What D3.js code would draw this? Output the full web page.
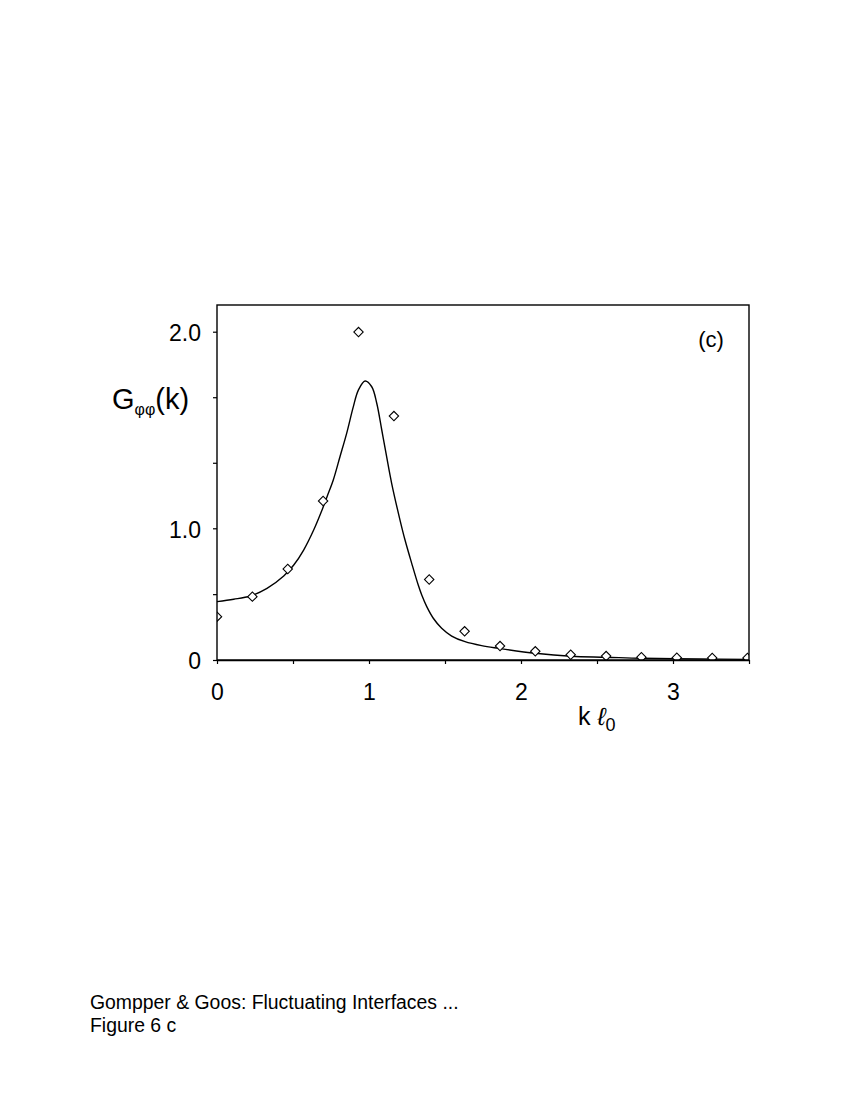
<!DOCTYPE html>
<html>
<head>
<meta charset="utf-8">
<script src="https://cdn.jsdelivr.net/npm/d3@7"></script>
<style>
  html, body { margin: 0; padding: 0; background: #fff; }
  svg { display: block; font-family: "Liberation Sans", Arial, Helvetica, sans-serif; }
</style>
</head>
<body>
<svg id="chart" width="853" height="1103"></svg>
<script>
// ---- data ----
const pointK = [0, 0.2327, 0.4654, 0.698, 0.931, 1.164, 1.396, 1.629, 1.862, 2.094, 2.327, 2.56, 2.792, 3.025, 3.258, 3.49];
const pointG = [0.329, 0.481, 0.691, 1.139, 1.998, 1.571, 0.611, 0.218, 0.106, 0.066, 0.040, 0.030, 0.021, 0.017, 0.015, 0.015];

const curveK = [0, 0.110, 0.219, 0.329, 0.439, 0.505, 0.570, 0.636, 0.691, 0.724, 0.765, 0.809, 0.853, 0.897, 0.930, 0.974, 1.018, 1.051, 1.084, 1.116, 1.149, 1.204, 1.237, 1.281, 1.324, 1.347, 1.380, 1.423, 1.478, 1.544, 1.632, 1.741, 1.851, 2.094, 2.329, 2.559, 2.794, 3.178, 3.5];
const curveG = [0.443, 0.461, 0.486, 0.544, 0.638, 0.721, 0.835, 0.987, 1.093, 1.161, 1.246, 1.364, 1.483, 1.619, 1.703, 1.749, 1.720, 1.636, 1.500, 1.364, 1.229, 1.042, 0.911, 0.734, 0.569, 0.493, 0.405, 0.317, 0.241, 0.182, 0.139, 0.109, 0.089, 0.051, 0.028, 0.021, 0.013, 0.008, 0.005];

const xTickValues = [0, 0.5, 1, 1.5, 2, 2.5, 3, 3.5];
const xTickLabels = ["0", "", "1", "", "2", "", "3", ""];
const yTickValues = [0, 0.5, 1, 1.3333, 1.6667, 2];
const yTickLabels = ["0", "", "1.0", "", "", "2.0"];

// ---- layout ----
const svg = d3.select("#chart");
const plot = { left: 217, right: 749, top: 305, bottom: 660 };

const x = d3.scaleLinear().domain([0, 3.5]).range([plot.left, plot.right]);
// the original axis is not uniform: 0 -> 1.0 spans two tick intervals, 1.0 -> 2.0 spans three
const y = d3.scaleLinear().domain([0, 1, 2]).range([plot.bottom, 528.3, 331.7]);

svg.append("defs").append("clipPath").attr("id", "clip")
  .append("rect")
  .attr("x", plot.left).attr("y", plot.top)
  .attr("width", plot.right - plot.left).attr("height", plot.bottom - plot.top);

// curve
const line = d3.line()
  .x(d => x(d[0])).y(d => y(d[1]))
  .curve(d3.curveCatmullRom.alpha(0.5));
svg.append("path")
  .datum(curveK.map((k, i) => [k, curveG[i]]))
  .attr("clip-path", "url(#clip)")
  .attr("d", line)
  .attr("fill", "none")
  .attr("stroke", "#000")
  .attr("stroke-width", 1.4);

// diamonds
const diamond = d3.symbol().type(d3.symbolSquare).size(44);
svg.append("g").attr("clip-path", "url(#clip)")
  .selectAll("path")
  .data(pointK.map((k, i) => [k, pointG[i]]))
  .join("path")
  .attr("d", diamond)
  .attr("transform", d => `translate(${x(d[0])},${y(d[1])}) rotate(45)`)
  .attr("fill", "#fff")
  .attr("stroke", "#000")
  .attr("stroke-width", 1.1);

// frame
svg.append("rect")
  .attr("x", plot.left).attr("y", plot.top)
  .attr("width", plot.right - plot.left).attr("height", plot.bottom - plot.top)
  .attr("fill", "none").attr("stroke", "#000").attr("stroke-width", 1.4);

// axes
const xAxis = d3.axisBottom(x)
  .tickValues(xTickValues)
  .tickFormat((d, i) => xTickLabels[i])
  .tickSize(4).tickSizeOuter(0).tickPadding(20);
const gx = svg.append("g").attr("transform", `translate(0,${plot.bottom})`).call(xAxis);
gx.select(".domain").attr("stroke-width", 1.4);
gx.selectAll(".tick line").attr("stroke-width", 1.2);
gx.selectAll("text").attr("font-size", 23).attr("fill", "#000").attr("font-family", null);

const yAxis = d3.axisLeft(y)
  .tickValues(yTickValues)
  .tickFormat((d, i) => yTickLabels[i])
  .tickSize(4).tickSizeOuter(0).tickPadding(12);
const gy = svg.append("g").attr("transform", `translate(${plot.left},0)`).call(yAxis);
gy.select(".domain").remove();
gy.selectAll(".tick line").attr("stroke-width", 1.2);
gy.selectAll("text").attr("font-size", 23).attr("fill", "#000").attr("font-family", null).attr("dy", "0.39em");

// y axis title: G_φφ(k)
const yt = svg.append("text").attr("x", 112).attr("y", 409).attr("font-size", 29).attr("fill", "#000");
yt.append("tspan").text("G");
yt.append("tspan").attr("font-size", 16).attr("dy", 6).text("φφ");
yt.append("tspan").attr("dy", -6).text("(k)");

// x axis title: k ℓ0
const xt = svg.append("text").attr("x", 578).attr("y", 725).attr("font-size", 25).attr("fill", "#000");
xt.append("tspan").text("k ");
xt.append("tspan").attr("font-style", "italic").text("ℓ");
xt.append("tspan").attr("font-size", 18).attr("dy", 6).text("0");

// panel label
svg.append("text").attr("x", 711).attr("y", 347).attr("text-anchor", "middle")
  .attr("font-size", 22).attr("fill", "#000").text("(c)");

// footer
svg.append("text").attr("x", 90).attr("y", 1009).attr("font-size", 19.4).attr("fill", "#000")
  .text("Gompper & Goos: Fluctuating Interfaces ...");
svg.append("text").attr("x", 90).attr("y", 1032).attr("font-size", 19.4).attr("fill", "#000")
  .text("Figure 6 c");
</script>
</body>
</html>
